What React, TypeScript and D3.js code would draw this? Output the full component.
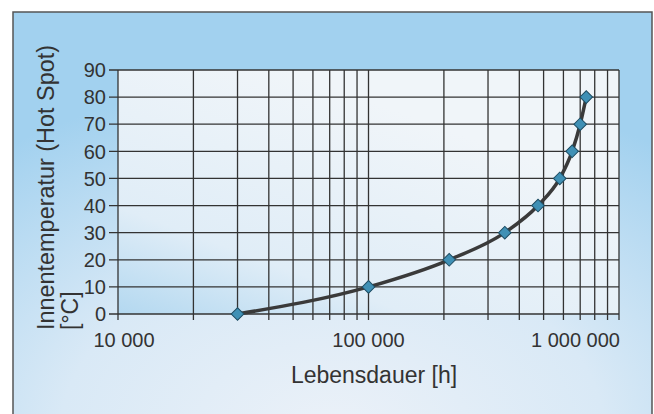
import React from "react";
import * as d3 from "d3";

// Lebensdauer [h] vs. Innentemperatur (Hot Spot) [°C]
const hours = [30000, 100000, 210000, 350000, 475000, 580000, 650000, 700000, 740000];
const temps = [0, 10, 20, 30, 40, 50, 60, 70, 80];
const yTicks = [0, 10, 20, 30, 40, 50, 60, 70, 80, 90];
const xLabelValues = [10000, 100000, 1000000];
const xLabels = ["10 000", "100 000", "1 000 000"];

const W = 654;
const H = 414;
const font = "'Liberation Sans', Arial, Helvetica, sans-serif";

function App() {
  const margin = { top: 70, right: 35, bottom: 100, left: 118 };

  const x = d3.scaleLog().domain([10000, 1000000]).range([margin.left, 619]);
  const y = d3.scaleLinear().domain([0, 90]).range([H - margin.bottom, margin.top]);

  // log grid: 1..9 x 10^d
  const gridX: number[] = [];
  [10000, 100000].forEach((dec) => {
    for (let k = 1; k < 10; k++) gridX.push(k * dec);
  });
  gridX.push(1000000);

  const pts = hours.map((h, i) => [x(h), y(temps[i])] as [number, number]);
  const line = d3.line().curve(d3.curveMonotoneX)(pts) || "";
  const diamond = d3.symbol().type(d3.symbolSquare).size(80)() || "";

  const [x0, x1] = x.range();
  const [yb, yt] = y.range();

  return (
    <svg width={W} height={H} style={{ position: "absolute", left: 0, top: 0 }}>
      <defs>
        <radialGradient id="panelBg" cx="0.5" cy="1" r="0.85" fx="0.5" fy="1">
          <stop offset="0" stopColor="#ebf1f8" />
          <stop offset="0.5" stopColor="#d9e9f6" />
          <stop offset="1" stopColor="#a2d1ef" />
        </radialGradient>
        <linearGradient id="plotBg" x1="0" y1="1" x2="0.6" y2="0.2">
          <stop offset="0" stopColor="#b3d8f0" />
          <stop offset="0.35" stopColor="#e0edf7" />
          <stop offset="1" stopColor="#f0f5f9" />
        </linearGradient>
      </defs>

      <rect x={13} y={12} width={639} height={420} fill="url(#panelBg)" stroke="#555" strokeWidth={1.5} />
      <rect x={x0} y={yt} width={x1 - x0} height={yb - yt} fill="url(#plotBg)" />

      {/* grid */}
      <g stroke="#333" strokeWidth={1.3}>
        {yTicks.map((t) => (
          <line key={"h" + t} x1={x0 - 9} x2={x1} y1={y(t)} y2={y(t)} />
        ))}
        {gridX.map((v) => (
          <line key={"v" + v} x1={x(v)} x2={x(v)} y1={yt} y2={yb + 6} />
        ))}
      </g>

      {/* y tick labels */}
      <g fontFamily={font} fontSize={20} fill="#333" textAnchor="end">
        {yTicks.map((t) => (
          <text key={t} x={106} y={y(t)} dy="0.36em">{t}</text>
        ))}
      </g>

      {/* x tick labels */}
      <g fontFamily={font} fontSize={20} fill="#333">
        {xLabelValues.map((v, i) => (
          <text
            key={v}
            x={i === 0 ? x(v) + 6 : i === 2 ? x(v) + 1 : x(v)}
            y={347}
            textAnchor={i === 2 ? "end" : "middle"}
          >
            {xLabels[i]}
          </text>
        ))}
      </g>

      {/* axis titles */}
      <text x={374} y={383} fontFamily={font} fontSize={23} fill="#333" textAnchor="middle">
        Lebensdauer [h]
      </text>
      <g transform="rotate(-90)" fontFamily={font} fontSize={23} fill="#333">
        <text x={-330} y={54} textLength={285} lengthAdjust="spacingAndGlyphs">
          Innentemperatur (Hot Spot)
        </text>
        <text x={-330} y={78}>[°C]</text>
      </g>

      {/* curve */}
      <path d={line} fill="none" stroke="#3a3a3a" strokeWidth={3.5} strokeLinejoin="round" />
      {pts.map((p, i) => (
        <path
          key={i}
          d={diamond}
          transform={`translate(${p[0]},${p[1]}) rotate(45)`}
          fill="#3f90b5"
          stroke="#1f4d63"
          strokeWidth={1}
        />
      ))}
    </svg>
  );
}

export default App;
